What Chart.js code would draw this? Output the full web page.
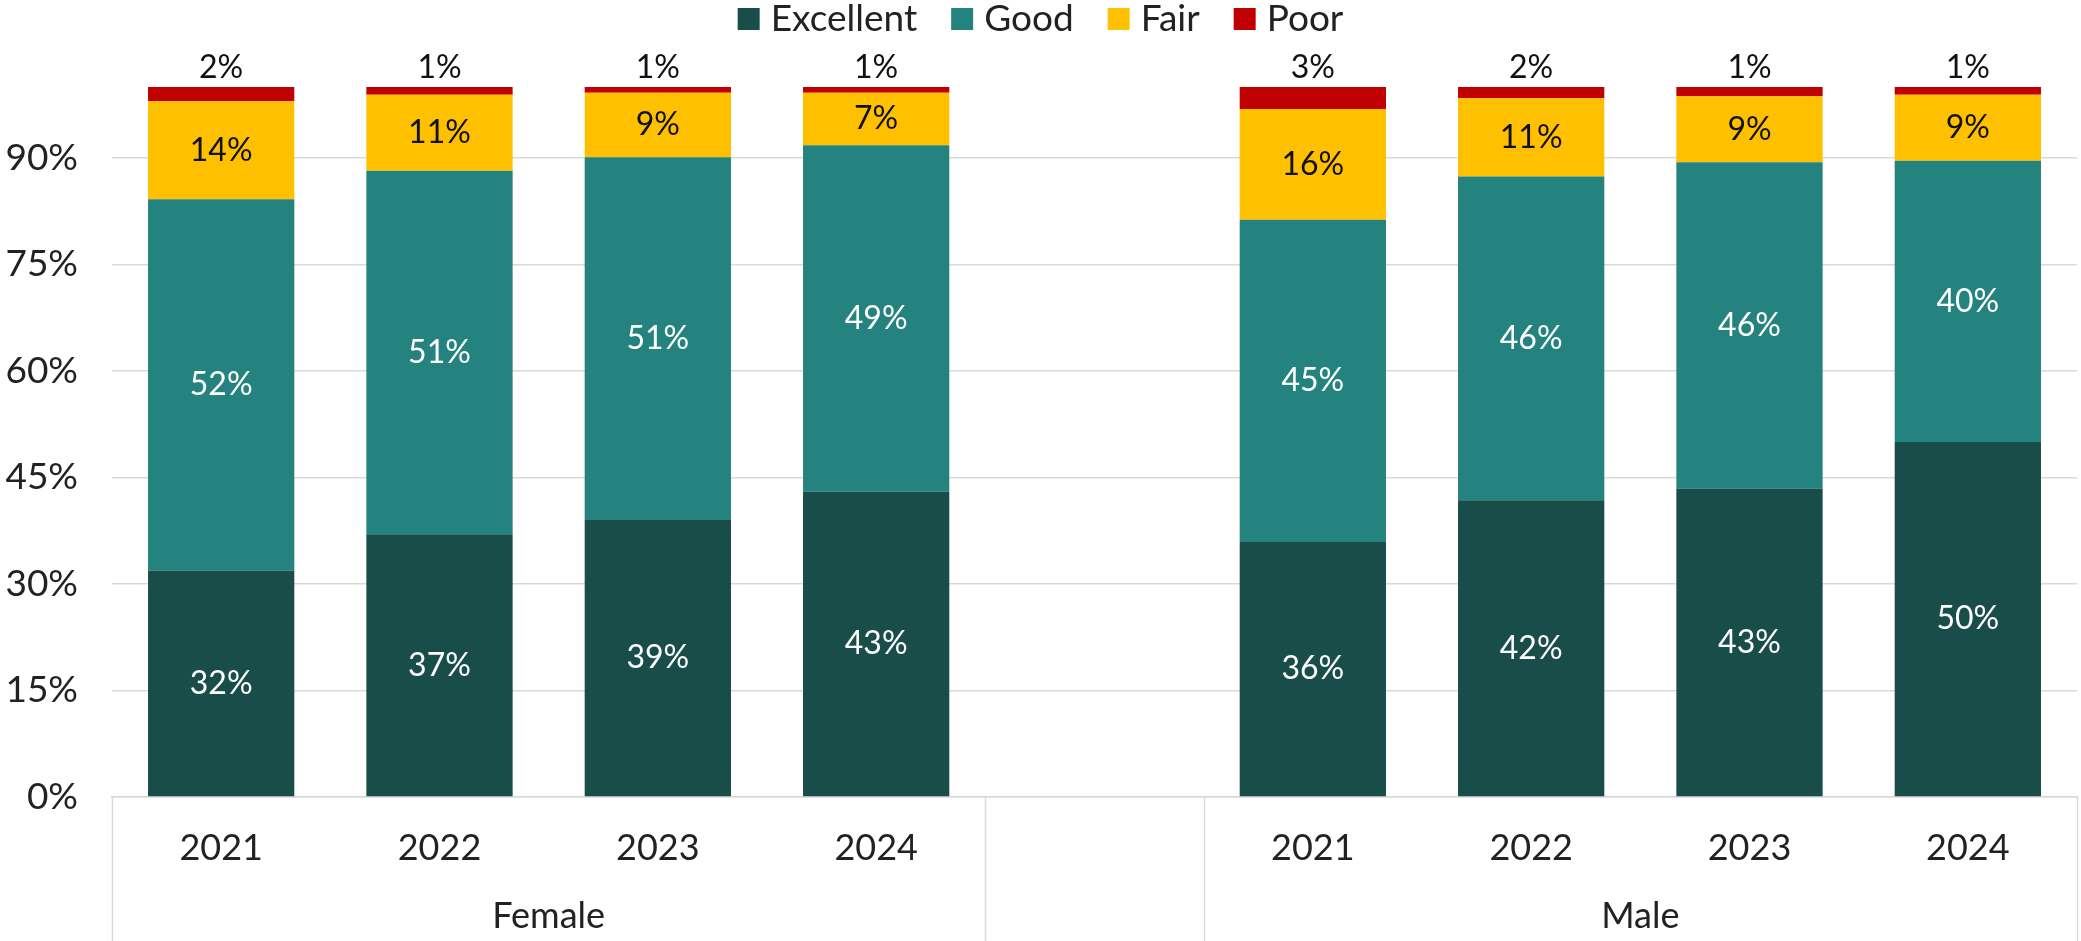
<!DOCTYPE html>
<html>
<head>
<meta charset="utf-8">
<script src="https://cdn.jsdelivr.net/npm/chart.js@4.4.1/dist/chart.umd.min.js"></script>
<style>
  html, body { margin: 0; padding: 0; background: #fff; }
  #wrap { width: 2081px; height: 941px; }
</style>
</head>
<body>
<div id="wrap"><canvas id="healthChart" width="2081" height="941"></canvas></div>
<script>
// Categories (blank slot separates the two groups)
const years = ['2021', '2022', '2023', '2024', '', '2021', '2022', '2023', '2024'];
const groups = ['Female', '', 'Male'];
const groupSpans = [4, 1, 4];

// Series values (%)
const excellent = [31.9, 37.0, 39.0, 43.0, null, 35.9, 41.8, 43.4, 50.0];
const good      = [52.3, 51.2, 51.1, 48.8, null, 45.4, 45.6, 46.0, 39.6];
const fair      = [13.8, 10.7,  9.1,  7.4, null, 15.6, 11.0,  9.3,  9.3];
const poor      = [ 2.0,  1.1,  0.8,  0.8, null,  3.1,  1.6,  1.3,  1.1];

const yTicks = [0, 15, 30, 45, 60, 75, 90];

const FONT = 'Lato, "Open Sans", sans-serif';
const TEXT = '#222222';
const GRID = '#d9d9d9';

// Value labels inside / above the stacked segments
const valueLabels = {
    id: 'valueLabels',
    afterDatasetsDraw(chart) {
        const ctx = chart.ctx;
        ctx.save();
        ctx.font = '32px ' + FONT;
        ctx.textAlign = 'center';
        ctx.textBaseline = 'middle';
        chart.data.datasets.forEach(function(ds, di) {
            const meta = chart.getDatasetMeta(di);
            meta.data.forEach(function(bar, i) {
                const v = ds.data[i];
                if (v === null || v === undefined) return;
                const p = bar.getProps(['x', 'y', 'base'], true);
                ctx.fillStyle = ds.labelColor;
                const y = ds.labelOutside ? p.y - 19 : (p.y + p.base) / 2;
                ctx.fillText(Math.round(v) + '%', p.x, y);
            });
        });
        ctx.restore();
    }
};

// Group dividers + group names under the year labels, and the legend on top
const groupAxis = {
    id: 'groupAxis',
    afterDraw(chart) {
        const ctx = chart.ctx;
        const area = chart.chartArea;
        const slot = (area.right - area.left) / years.length;
        ctx.save();
        ctx.strokeStyle = GRID;
        ctx.lineWidth = 1.5;
        let k = 0;
        const edges = [0];
        groupSpans.forEach(function(s) { k += s; edges.push(k); });
        edges.forEach(function(e) {
            const x = Math.round(area.left + e * slot) + 0.5;
            ctx.beginPath();
            ctx.moveTo(x, area.bottom);
            ctx.lineTo(x, chart.height);
            ctx.stroke();
        });
        ctx.font = '36px ' + FONT;
        ctx.fillStyle = TEXT;
        ctx.textAlign = 'center';
        ctx.textBaseline = 'middle';
        groups.forEach(function(g, gi) {
            if (!g) return;
            const cx = area.left + (edges[gi] + groupSpans[gi] / 2) * slot;
            ctx.fillText(g, cx, 916);
        });

        // legend
        ctx.font = '37px ' + FONT;
        const box = 22, boxGap = 11, itemGap = 34;
        const items = chart.data.datasets.map(function(ds) {
            return { text: ds.label, color: ds.backgroundColor, w: ctx.measureText(ds.label).width };
        });
        let total = 0;
        items.forEach(function(it, i) { total += box + boxGap + it.w + (i ? itemGap : 0); });
        let x = (chart.width - total) / 2;
        const cy = 19;
        ctx.textAlign = 'left';
        items.forEach(function(it) {
            ctx.fillStyle = it.color;
            ctx.fillRect(x, cy - box / 2, box, box);
            ctx.fillStyle = TEXT;
            ctx.fillText(it.text, x + box + boxGap, cy);
            x += box + boxGap + it.w + itemGap;
        });
        ctx.restore();
    }
};

new Chart(document.getElementById('healthChart').getContext('2d'), {
    type: 'bar',
    data: {
        labels: years,
        datasets: [
            { label: 'Excellent', data: excellent, backgroundColor: '#184d4a', labelColor: '#ffffff' },
            { label: 'Good', data: good, backgroundColor: '#24837f', labelColor: '#ffffff' },
            { label: 'Fair', data: fair, backgroundColor: '#ffc000', labelColor: '#111111' },
            { label: 'Poor', data: poor, backgroundColor: '#c00000', labelColor: '#111111', labelOutside: true }
        ]
    },
    options: {
        responsive: false,
        animation: false,
        maintainAspectRatio: false,
        datasets: {
            bar: {
                categoryPercentage: 1,
                barPercentage: 0.67,
                borderWidth: 0
            }
        },
        layout: {
            padding: { top: 87, right: 4, bottom: 0, left: 0 }
        },
        plugins: {
            legend: { display: false },
            tooltip: { enabled: false }
        },
        scales: {
            x: {
                stacked: true,
                grid: { display: false, drawTicks: false },
                border: { display: true, color: GRID, width: 1.5 },
                ticks: {
                    color: TEXT,
                    font: { family: FONT, size: 36 },
                    padding: 30,
                    autoSkip: false,
                    maxRotation: 0
                },
                afterFit: function(scale) { scale.height = 144; }
            },
            y: {
                stacked: true,
                min: 0,
                max: 100,
                grid: { color: GRID, lineWidth: 1.5, drawTicks: false },
                border: { display: false },
                ticks: {
                    stepSize: 15,
                    padding: 34,
                    color: TEXT,
                    font: { family: FONT, size: 37 },
                    callback: function(value) { return value + '%'; }
                },
                afterBuildTicks: function(scale) {
                    scale.ticks = yTicks.map(function(v) { return { value: v }; });
                },
                afterFit: function(scale) { scale.width = 112; }
            }
        }
    },
    plugins: [valueLabels, groupAxis]
});
</script>
</body>
</html>
